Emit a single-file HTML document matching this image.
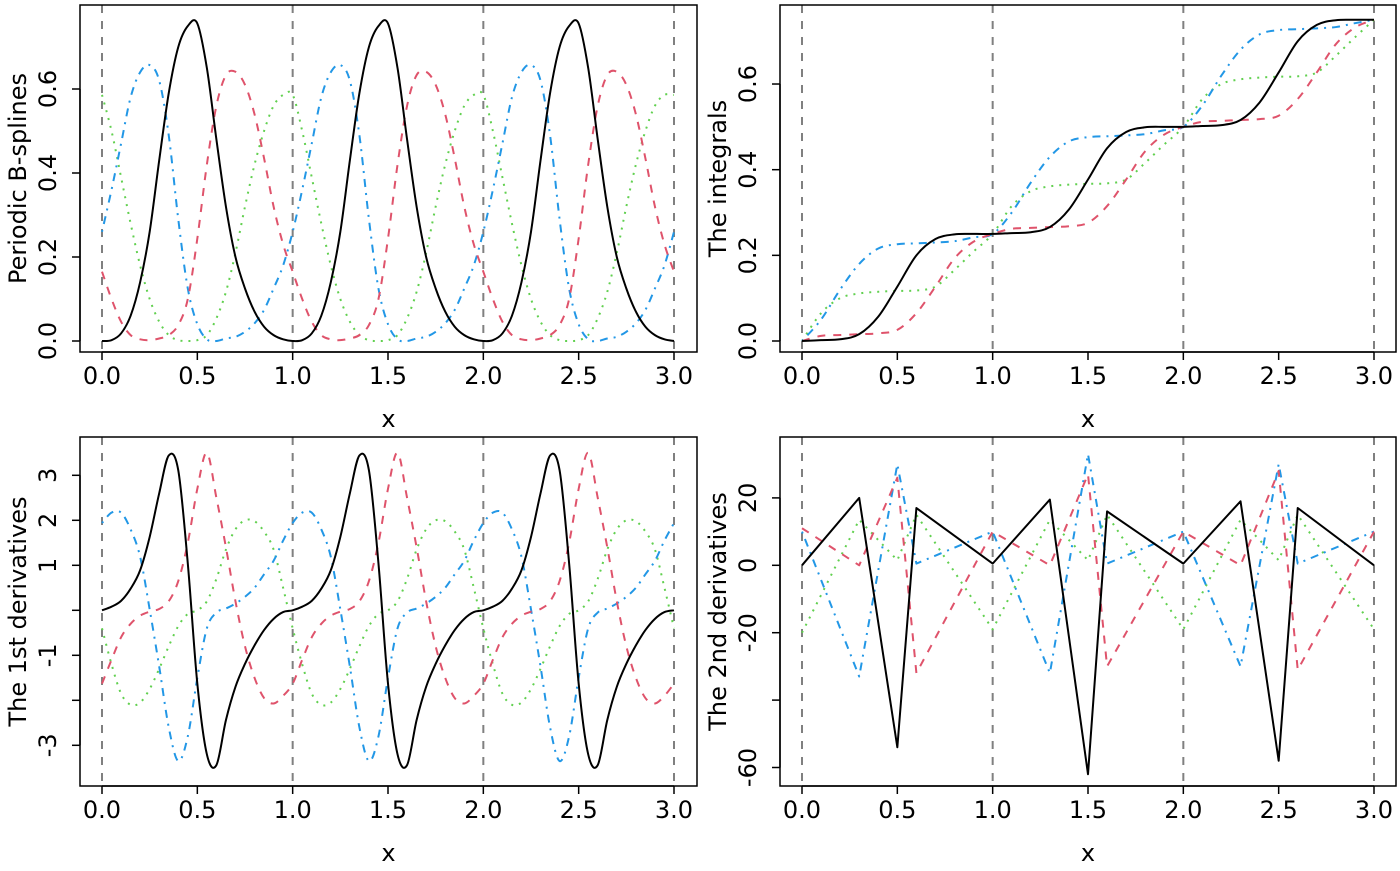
<!DOCTYPE html>
<html><head><meta charset="utf-8"><style>
html,body{margin:0;padding:0;background:#fff}
svg text{font-family:"DejaVu Sans","Liberation Sans",sans-serif;font-size:24px;fill:#000}
</style></head><body>
<svg id="chart" width="1400" height="866" xmlns="http://www.w3.org/2000/svg"></svg>
<script>
// ---- data ----
const xTicks = [0, 0.5, 1, 1.5, 2, 2.5, 3];
const xTickLabels = ["0.0","0.5","1.0","1.5","2.0","2.5","3.0"];
const knotLines = [0, 1, 2, 3];
// one-period samples at step 0.05 (periodic with period 1)
const bsBlack = [0,0.002,0.018,0.06,0.14,0.26,0.43,0.59,0.70,0.75,0.756,0.65,0.48,0.32,0.20,0.125,0.07,0.034,0.014,0.004,0];
const bsRed   = [0.165,0.10,0.046,0.014,0.004,0.002,0.006,0.014,0.038,0.10,0.244,0.42,0.56,0.633,0.641,0.61,0.54,0.435,0.32,0.23,0.165];
const bsGreen = [0.586,0.50,0.39,0.28,0.18,0.10,0.046,0.014,0.002,0,0.002,0.014,0.054,0.117,0.21,0.32,0.42,0.50,0.56,0.586,0.586];
const bsBlue  = [0.26,0.36,0.47,0.58,0.64,0.657,0.62,0.49,0.29,0.125,0.04,0.004,0,0.006,0.01,0.022,0.042,0.074,0.125,0.18,0.26];
// integrals, full range at step 0.1
const inBlack = [0,0.002,0.004,0.016,0.057,0.127,0.20,0.238,0.249,0.25,0.25,0.252,0.254,0.266,0.307,0.377,0.45,0.488,0.499,0.5,0.5,0.502,0.504,0.516,0.557,0.627,0.70,0.738,0.749,0.75,0.75];
const inRed   = [0,0.012,0.014,0.016,0.018,0.026,0.065,0.127,0.193,0.232,0.25,0.262,0.264,0.266,0.268,0.276,0.315,0.377,0.443,0.482,0.5,0.512,0.514,0.516,0.518,0.526,0.565,0.627,0.693,0.732,0.75];
const inGreen = [0,0.065,0.1,0.111,0.115,0.117,0.118,0.127,0.166,0.209,0.25,0.315,0.35,0.361,0.365,0.367,0.368,0.377,0.416,0.459,0.5,0.565,0.6,0.611,0.615,0.617,0.618,0.627,0.666,0.709,0.75];
const inBlue  = [0,0.05,0.12,0.18,0.216,0.226,0.228,0.23,0.233,0.242,0.25,0.30,0.37,0.43,0.466,0.476,0.478,0.48,0.483,0.492,0.5,0.55,0.62,0.68,0.716,0.726,0.728,0.73,0.733,0.742,0.75];
// first derivatives, one period at step 0.05
const d1Black = [0,0.08,0.21,0.48,0.89,1.63,2.6,3.44,3.11,1.04,-1.63,-3.2,-3.44,-2.44,-1.7,-1.19,-0.78,-0.44,-0.19,-0.04,0];
const d1Red   = [-1.63,-1.1,-0.6,-0.3,-0.12,-0.03,0.03,0.2,0.65,1.5,2.7,3.5,2.5,1.4,0.2,-0.8,-1.5,-1.95,-2.07,-1.9,-1.63];
const d1Green = [-0.4,-1.2,-1.85,-2.1,-2.05,-1.75,-1.3,-0.8,-0.35,-0.08,0,0.2,0.7,1.35,1.8,2.0,1.98,1.75,1.35,0.5,-0.4];
const d1Blue  = [1.94,2.17,2.17,1.8,1.19,0.02,-1.25,-2.6,-3.35,-2.8,-1.5,-0.4,-0.05,0.04,0.15,0.3,0.5,0.8,1.1,1.55,1.94];
// second derivatives at knots
const d2X     = [0,0.3,0.5,0.6,1,1.3,1.5,1.6,2,2.3,2.5,2.6,3];
const d2Black = [0,20,-54,17,0.5,19.5,-62,16,0.5,19,-58,17,0];
const d2Red   = [11,0,26,-32,10,0,27,-30,10,0,28,-31,10];
const d2Green = [-20,13.5,1.5,15,-19,13.5,1.5,15,-19,13.5,1.5,15,-19];
const d2Blue  = [10,-33,30,0.5,10,-32,33,0.5,10,-30,30,0.5,10];

const step05 = 0.05;
const NS = "http://www.w3.org/2000/svg";
const svg = document.getElementById('chart');
function mk(tag, attrs, parent){const e=document.createElementNS(NS,tag);for(const k in attrs)e.setAttribute(k,attrs[k]);(parent||svg).appendChild(e);return e;}
function tile(arr){const xs=[],ys=[];for(let p=0;p<3;p++){for(let i=(p===0?0:1);i<arr.length;i++){xs.push(p+i*step05);ys.push(arr[i]);}}return {xs,ys};}
function seq(arr,st){return {xs:arr.map((_,i)=>i*st),ys:arr};}
function smoothPath(P){
  let d='M'+P[0][0].toFixed(2)+','+P[0][1].toFixed(2);
  for(let i=0;i<P.length-1;i++){
    const p0=P[Math.max(0,i-1)],p1=P[i],p2=P[i+1],p3=P[Math.min(P.length-1,i+2)];
    const c1=[p1[0]+(p2[0]-p0[0])/6,p1[1]+(p2[1]-p0[1])/6];
    const c2=[p2[0]-(p3[0]-p1[0])/6,p2[1]-(p3[1]-p1[1])/6];
    d+=' C'+c1[0].toFixed(2)+','+c1[1].toFixed(2)+' '+c2[0].toFixed(2)+','+c2[1].toFixed(2)+' '+p2[0].toFixed(2)+','+p2[1].toFixed(2);
  }
  return d;
}

const styles = {
  black:{stroke:"#000000",dash:""},
  red:{stroke:"#DF536B",dash:"8,8"},
  green:{stroke:"#61D04F",dash:"2,6"},
  blue:{stroke:"#2297E6",dash:"2,6,8,6"}
};

function panel(cfg){
  const g = mk('g',{});
  
  
  const sx = x => cfg.x0 + x*(cfg.x3-cfg.x0)/3;
  const sy = v => cfg.yz - v*cfg.ys;
  knotLines.forEach(k=>{
    const l = mk('line',{x1:sx(k),x2:sx(k),y1:cfg.top,y2:cfg.bot,stroke:"#808080","stroke-width":2,"stroke-dasharray":"8,8"},g);
    
    
  });
  cfg.series.forEach(s=>{
    const st = styles[s.col];
    const P = s.d.xs.map((x,i)=>[sx(x),sy(s.d.ys[i])]);
    let el;
    if(cfg.smooth){
      el = mk('path',{d:smoothPath(P),fill:"none",stroke:st.stroke,"stroke-width":2,"stroke-dasharray":st.dash,"stroke-linejoin":"round"},g);
    } else {
      el = mk('polyline',{points:P.map(p=>p[0].toFixed(2)+','+p[1].toFixed(2)).join(' '),fill:"none",stroke:st.stroke,"stroke-width":2,"stroke-dasharray":st.dash,"stroke-linejoin":"round"},g);
    }
    
    
  });
  const b = mk('rect',{x:cfg.left,y:cfg.top,width:cfg.right-cfg.left,height:cfg.bot-cfg.top,fill:"none",stroke:"#000","stroke-width":1.5},g);
  
  
  const xa = mk('g',{},g);
  
  
  mk('line',{x1:sx(xTicks[0]),x2:sx(xTicks[xTicks.length-1]),y1:cfg.bot,y2:cfg.bot,stroke:"#000","stroke-width":1.5},xa);
  xTicks.forEach((t,i)=>{
    mk('line',{x1:sx(t),x2:sx(t),y1:cfg.bot,y2:cfg.bot+8,stroke:"#000","stroke-width":1.5},xa);
    const tx = mk('text',{x:sx(t),y:cfg.bot+32,"text-anchor":"middle"},xa);
    tx.textContent = xTickLabels[i];
    
    
  });
  const xt = mk('text',{x:(cfg.left+cfg.right)/2,y:cfg.bot+75,"text-anchor":"middle"},g);
  xt.textContent = 'x';
  
  
  const ya = mk('g',{},g);
  
  
  mk('line',{x1:cfg.left,x2:cfg.left,y1:sy(cfg.yTicks[0]),y2:sy(cfg.yTicks[cfg.yTicks.length-1]),stroke:"#000","stroke-width":1.5},ya);
  cfg.yTicks.forEach((t,i)=>{
    mk('line',{x1:cfg.left-8,x2:cfg.left,y1:sy(t),y2:sy(t),stroke:"#000","stroke-width":1.5},ya);
    if(cfg.yLabels[i]!==''){
      const tx = mk('text',{x:0,y:0,"text-anchor":"middle",transform:`translate(${cfg.left-24},${sy(t)}) rotate(-90)`},ya);
      tx.textContent = cfg.yLabels[i];
      
      
    }
  });
  const yt = mk('text',{x:0,y:0,"text-anchor":"middle",transform:`translate(${cfg.left-54},${(cfg.top+cfg.bot)/2}) rotate(-90)`},g);
  yt.textContent = cfg.title;
  
  
}

panel({name:'panel-bsplines',smooth:true,left:80,right:697,top:5,bot:352,x0:102,x3:674,yz:341,ys:420,
  yTicks:[0,0.2,0.4,0.6],yLabels:["0.0","0.2","0.4","0.6"],title:"Periodic B-splines",
  series:[{col:'green',d:tile(bsGreen)},{col:'blue',d:tile(bsBlue)},{col:'red',d:tile(bsRed)},{col:'black',d:tile(bsBlack)}]});
panel({name:'panel-integrals',smooth:true,left:780,right:1396,top:5,bot:352,x0:802,x3:1374,yz:341,ys:428.3,
  yTicks:[0,0.2,0.4,0.6],yLabels:["0.0","0.2","0.4","0.6"],title:"The integrals",
  series:[{col:'green',d:seq(inGreen,0.1)},{col:'blue',d:seq(inBlue,0.1)},{col:'red',d:seq(inRed,0.1)},{col:'black',d:seq(inBlack,0.1)}]});
panel({name:'panel-first-derivatives',smooth:true,left:80,right:697,top:437,bot:786,x0:102,x3:674,yz:610.3,ys:45,
  yTicks:[-3,-2,-1,0,1,2,3],yLabels:["-3","","-1","","1","2","3"],title:"The 1st derivatives",
  series:[{col:'green',d:tile(d1Green)},{col:'blue',d:tile(d1Blue)},{col:'red',d:tile(d1Red)},{col:'black',d:tile(d1Black)}]});
panel({name:'panel-second-derivatives',smooth:false,left:780,right:1396,top:437,bot:786,x0:802,x3:1374,yz:565.3,ys:3.37,
  yTicks:[-60,-40,-20,0,20],yLabels:["-60","","-20","0","20"],title:"The 2nd derivatives",
  series:[{col:'green',d:{xs:d2X,ys:d2Green}},{col:'blue',d:{xs:d2X,ys:d2Blue}},{col:'red',d:{xs:d2X,ys:d2Red}},{col:'black',d:{xs:d2X,ys:d2Black}}]});
</script>
</body></html>
